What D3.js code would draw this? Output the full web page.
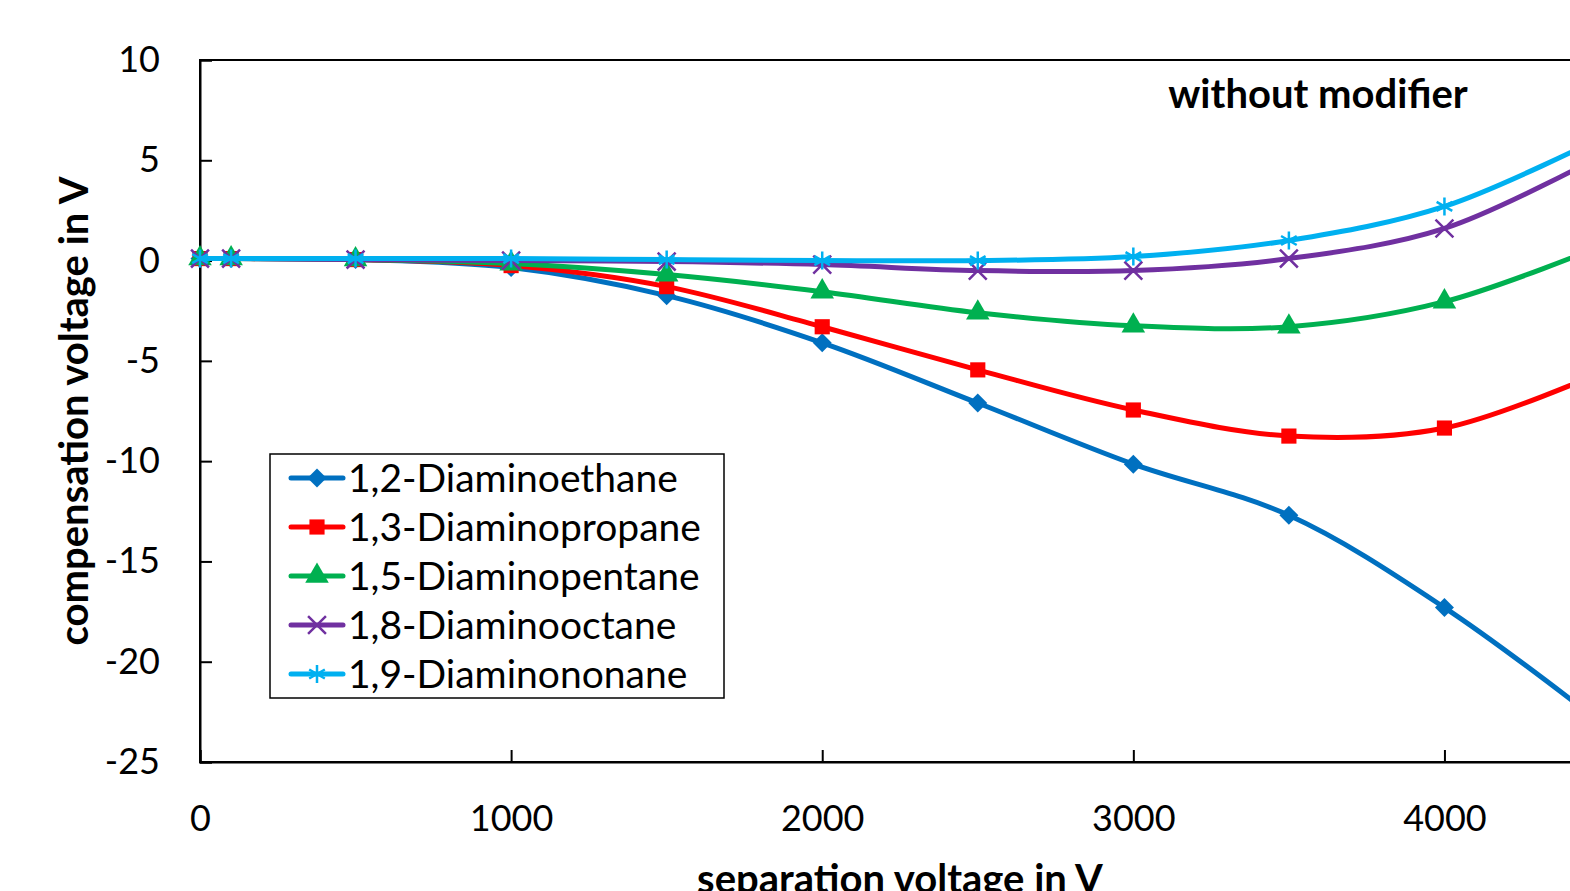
<!DOCTYPE html>
<html>
<head>
<meta charset="utf-8">
<script src="https://cdn.jsdelivr.net/npm/d3@7"></script>
<style>
  body { margin: 0; background: #fff; overflow: hidden; }
  text { font-family: Lato, "Open Sans", sans-serif; fill: #000; }
</style>
</head>
<body>
<div id="chart"></div>
<script>
// Valeurs
const separationVoltage = [0, 100, 500, 1000, 1500, 2000, 2500, 3000, 3500, 4000, 4500];
const seriesNames = ["1,2-Diaminoethane", "1,3-Diaminopropane", "1,5-Diaminopentane", "1,8-Diaminooctane", "1,9-Diaminononane"];
const diaminoethane = [0.1, 0.1, 0.05, -0.35, -1.75, -4.1, -7.1, -10.15, -12.7, -17.3, -23.0];
const diaminopropane = [0.1, 0.1, 0.05, -0.25, -1.3, -3.3, -5.45, -7.45, -8.75, -8.35, -5.6];
const diaminopentane = [0.1, 0.1, 0.05, -0.15, -0.7, -1.55, -2.6, -3.25, -3.3, -2.05, 0.7];
const diaminooctane = [0.1, 0.1, 0.05, 0.0, -0.05, -0.2, -0.5, -0.5, 0.1, 1.6, 5.2];
const diaminononane = [0.1, 0.1, 0.1, 0.1, 0.05, 0.0, 0.0, 0.2, 1.0, 2.7, 6.1];
const xTicks = [0, 1000, 2000, 3000, 4000];
const yTicks = [-25, -20, -15, -10, -5, 0, 5, 10];

const seriesValues = [diaminoethane, diaminopropane, diaminopentane, diaminooctane, diaminononane];
const colors = ["#0070C0", "#FF0000", "#00B050", "#7030A0", "#00B0F0"];
const symbols = [d3.symbolSquare, d3.symbolSquare, d3.symbolTriangle, d3.symbolTimes, d3.symbolAsterisk];

const width = 1570;
const height = 891;
const margin = { left: 200, top: 60 };
const plotW = 1400;
const plotH = 702;

const svg = d3.select("#chart").append("svg")
    .attr("width", width)
    .attr("height", height);

const x = d3.scaleLinear().domain([0, 4500]).range([margin.left, margin.left + plotW]);
const y = d3.scaleLinear().domain([-25, 10]).range([margin.top + plotH, margin.top]);

// Cadre de la zone de tracé
svg.append("rect")
    .attr("x", x(0))
    .attr("y", y(10))
    .attr("width", plotW)
    .attr("height", plotH)
    .attr("fill", "none")
    .attr("stroke", "#000")
    .attr("stroke-width", 2);

// Axes (graduations vers l'intérieur)
const xAxis = svg.append("g")
    .attr("transform", `translate(0, ${y(-25)})`)
    .call(d3.axisBottom(x).tickValues(xTicks).tickSize(-12).tickPadding(43).tickFormat(d => d));

const yAxis = svg.append("g")
    .attr("transform", `translate(${x(0)}, 0)`)
    .call(d3.axisLeft(y).tickValues(yTicks).tickSize(-12).tickPadding(40).tickFormat(d => d));

[xAxis, yAxis].forEach(a => {
    a.select(".domain").attr("stroke", "#000").attr("stroke-width", 2);
    a.selectAll(".tick line").attr("stroke", "#000").attr("stroke-width", 2);
    a.selectAll(".tick text").attr("font-size", 36).attr("font-family", "Lato");
});
xAxis.selectAll(".tick text").attr("dy", "0.71em");

// Courbes lissées
const line = d3.line()
    .x((d, i) => x(separationVoltage[i]))
    .y(d => y(d))
    .curve(d3.curveCatmullRom.alpha(0.5));

const series = svg.selectAll(".series")
    .data(seriesValues)
    .join("g")
    .attr("class", "series");

series.append("path")
    .attr("d", d => line(d))
    .attr("fill", "none")
    .attr("stroke", (d, i) => colors[i])
    .attr("stroke-width", 5);

function drawMarker(sel, i) {
    const filled = i < 3;
    const size = [180, 230, 240, 210, 230][i];
    sel.attr("d", d3.symbol().type(symbols[i]).size(size)())
        .attr("fill", filled ? colors[i] : "none")
        .attr("stroke", filled ? "none" : colors[i])
        .attr("stroke-width", filled ? 0 : 2.5);
}

series.each(function (vals, i) {
    d3.select(this).selectAll(".marker")
        .data(vals)
        .join("path")
        .attr("class", "marker")
        .attr("transform", (d, j) => `translate(${x(separationVoltage[j])}, ${y(d)})` + (i === 0 ? " rotate(45)" : ""))
        .call(drawMarker, i);
});

// Titre dans le graphique
svg.append("text")
    .attr("x", 1318)
    .attr("y", 108)
    .attr("text-anchor", "middle")
    .attr("font-size", 40)
    .attr("font-weight", "bold")
    .text("without modifier");

// Titres des axes
svg.append("text")
    .attr("transform", `translate(88, ${y(-7.5)}) rotate(-90)`)
    .attr("text-anchor", "middle")
    .attr("font-size", 40)
    .attr("font-weight", "bold")
    .text("compensation voltage in V");

svg.append("text")
    .attr("x", x(2250))
    .attr("y", 893)
    .attr("text-anchor", "middle")
    .attr("font-size", 40)
    .attr("font-weight", "bold")
    .text("separation voltage in V");

// Légende
const legendG = svg.append("g")
    .attr("transform", "translate(270, 454)");

legendG.append("rect")
    .attr("width", 454)
    .attr("height", 244)
    .attr("fill", "#fff")
    .attr("stroke", "#000")
    .attr("stroke-width", 1.5);

const legend = legendG.selectAll(".legend")
    .data(seriesNames)
    .join("g")
    .attr("class", "legend")
    .attr("transform", (d, i) => `translate(0, ${24 + i * 49})`);

legend.append("line")
    .attr("x1", 21)
    .attr("x2", 73)
    .attr("stroke", (d, i) => colors[i])
    .attr("stroke-width", 5)
    .attr("stroke-linecap", "round");

legend.append("path")
    .attr("class", "marker")
    .each(function (d, i) {
        d3.select(this)
            .attr("transform", `translate(47, 0)` + (i === 0 ? " rotate(45)" : ""))
            .call(drawMarker, i);
    });

legend.append("text")
    .attr("x", 78)
    .attr("y", 0)
    .attr("dy", "0.35em")
    .attr("font-size", 39)
    .text(d => d);
</script>
</body>
</html>
